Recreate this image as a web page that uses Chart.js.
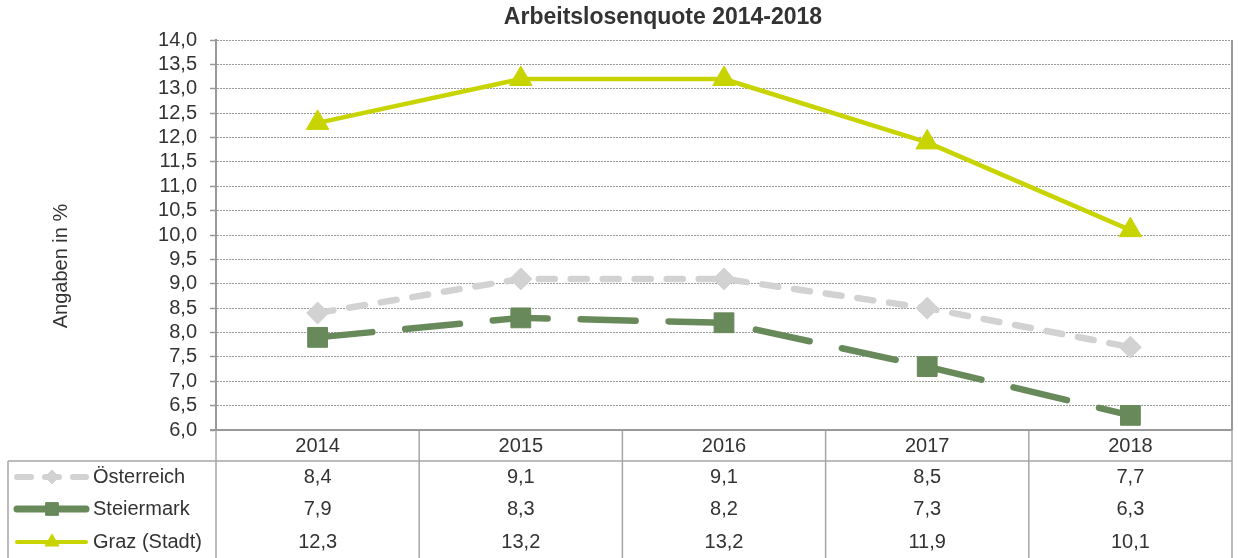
<!DOCTYPE html>
<html>
<head>
<meta charset="utf-8">
<script src="https://cdn.jsdelivr.net/npm/chart.js@4/dist/chart.umd.min.js"></script>
<style>
html, body { margin: 0; padding: 0; background: #fff; overflow: hidden; }
#wrap { width: 1238px; height: 558px; position: relative; }
</style>
</head>
<body>
<div id="wrap"><canvas id="line-chart"></canvas></div>
<script>
// data
const years = ['2014', '2015', '2016', '2017', '2018'];
const oesterreich = [8.4, 9.1, 9.1, 8.5, 7.7];
const steiermark = [7.9, 8.3, 8.2, 7.3, 6.3];
const graz = [12.3, 13.2, 13.2, 11.9, 10.1];
const seriesNames = ['Österreich', 'Steiermark', 'Graz (Stadt)'];
const yMin = 6, yMax = 14, yStep = 0.5;
const chartTitle = 'Arbeitslosenquote 2014-2018';
const yTitle = 'Angaben in %';

const FONT = '"Liberation Sans", Arial, sans-serif';
const TEXT = '#333333';
const fmt = v => v.toFixed(1).replace('.', ',');

// table rows under the plot (y centres)
const rowY = [477, 509, 542];

const line = (ctx, x1, y1, x2, y2) => {
    ctx.beginPath();
    ctx.moveTo(x1, y1);
    ctx.lineTo(x2, y2);
    ctx.stroke();
};

// draws title, y axis title and the data table with legend keys
const tablePlugin = {
    id: 'dataTable',
    afterDraw(chart) {
        const { ctx, chartArea: a, scales: { x } } = chart;
        const colW = (a.right - a.left) / years.length;
        const bottom = chart.height;
        ctx.save();

        // title
        ctx.fillStyle = TEXT;
        ctx.font = 'bold 23px ' + FONT;
        ctx.textAlign = 'center';
        ctx.textBaseline = 'middle';
        ctx.fillText(chartTitle, 663, 18);

        // y axis title
        ctx.save();
        ctx.translate(61, 266);
        ctx.rotate(-Math.PI / 2);
        ctx.font = '20px ' + FONT;
        ctx.fillText(yTitle, 0, 0);
        ctx.restore();

        // grid of table
        ctx.strokeStyle = '#a6a6a6';
        ctx.lineWidth = 1.5;
        for (let k = 1; k <= years.length; k++) {
            const xk = a.left + k * colW;
            line(ctx, xk, a.bottom, xk, bottom);
        }
        line(ctx, a.left, a.bottom, a.left, bottom);
        line(ctx, 8, 461, a.right, 461);
        line(ctx, 8, 461, 8, bottom);
        // right border of the plot and axis line
        ctx.strokeStyle = '#999999';
        ctx.lineWidth = 2;
        line(ctx, a.right, a.top, a.right, a.bottom);
        line(ctx, a.left - 6, a.bottom, a.right, a.bottom);

        // header years and values
        ctx.fillStyle = TEXT;
        ctx.font = '20px ' + FONT;
        ctx.textAlign = 'center';
        years.forEach((yr, i) => {
            const cx = x.getPixelForValue(i);
            ctx.fillText(yr, cx, 446);
            chart.data.datasets.forEach((ds, j) => {
                ctx.fillText(fmt(ds.data[i]), cx, rowY[j]);
            });
        });

        // legend keys
        chart.data.datasets.forEach((ds, j) => {
            const y = rowY[j];
            ctx.save();
            ctx.strokeStyle = ds.borderColor;
            ctx.lineWidth = ds.legendWidth;
            ctx.lineCap = 'round';
            ctx.setLineDash(ds.legendDash);
            line(ctx, 17, y, 86, y);
            ctx.restore();
            ctx.save();
            ctx.fillStyle = ds.pointBackgroundColor;
            ctx.strokeStyle = ds.pointBackgroundColor;
            ctx.lineWidth = 1;
            Chart.helpers.drawPoint(ctx, {
                pointStyle: ds.pointStyle,
                radius: ds.legendRadius,
                rotation: 0,
                borderWidth: 1
            }, 52, y);
            ctx.restore();
            ctx.fillStyle = TEXT;
            ctx.textAlign = 'left';
            ctx.fillText(ds.label, 93, y);
        });

        ctx.restore();
    }
};

const ctx = document.getElementById('line-chart').getContext('2d');
const lineChart = new Chart(ctx, {
    type: 'line',
    data: {
        labels: years,
        datasets: [{
            label: seriesNames[0],
            data: oesterreich,
            borderColor: '#d2d2d2',
            borderWidth: 6.5,
            borderDash: [16, 16],
            borderCapStyle: 'round',
            pointStyle: 'rectRot',
            pointRadius: 11,
            pointBackgroundColor: '#d2d2d2',
            pointBorderColor: '#d2d2d2',
            pointBorderWidth: 1,
            legendDash: [14, 14],
            legendWidth: 6,
            legendRadius: 7
        }, {
            label: seriesNames[1],
            data: steiermark,
            borderColor: '#68895a',
            borderWidth: 6.5,
            borderDash: [55, 33],
            borderCapStyle: 'round',
            pointStyle: 'rect',
            pointRadius: 14,
            pointBackgroundColor: '#68895a',
            pointBorderColor: '#68895a',
            pointBorderWidth: 1,
            legendDash: [],
            legendWidth: 7,
            legendRadius: 9
        }, {
            label: seriesNames[2],
            data: graz,
            borderColor: '#c8d400',
            borderWidth: 4.5,
            pointStyle: 'triangle',
            pointRadius: 13,
            pointBackgroundColor: '#c8d400',
            pointBorderColor: '#c8d400',
            pointBorderWidth: 1,
            legendDash: [],
            legendWidth: 4,
            legendRadius: 8
        }]
    },
    options: {
        responsive: true,
        maintainAspectRatio: false,
        animation: false,
        layout: {
            autoPadding: false,
            padding: { top: 40, right: 6, bottom: 128, left: 0 }
        },
        elements: { line: { tension: 0, fill: false, borderJoinStyle: 'round' } },
        plugins: {
            legend: { display: false },
            tooltip: { enabled: false },
            title: { display: false }
        },
        scales: {
            x: {
                type: 'category',
                display: false,
                offset: true
            },
            y: {
                min: yMin,
                max: yMax,
                afterFit(scale) { scale.width = 216; },
                ticks: {
                    stepSize: yStep,
                    autoSkip: false,
                    padding: 13,
                    color: TEXT,
                    font: { family: FONT, size: 20 },
                    callback: v => fmt(v)
                },
                grid: {
                    color: '#9a9a9a',
                    lineWidth: 1,
                    tickLength: 6,
                    tickColor: '#999999',
                    tickWidth: 1.5,
                    tickBorderDash: []
                },
                border: {
                    display: true,
                    color: '#999999',
                    width: 2,
                    dash: [2, 1]
                }
            }
        }
    },
    plugins: [tablePlugin]
});
</script>
</body>
</html>
